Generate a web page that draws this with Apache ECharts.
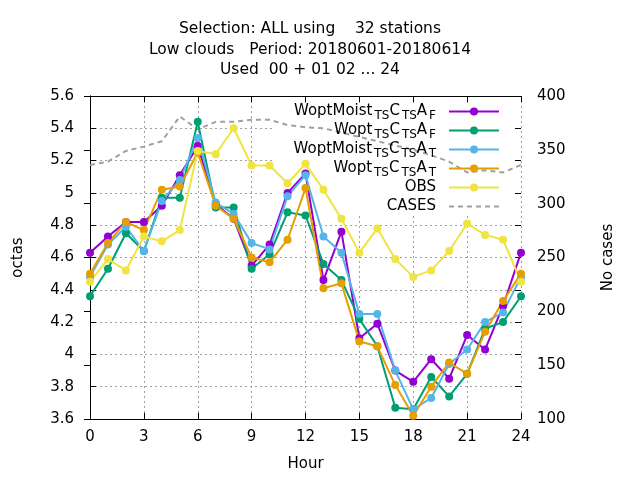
<!DOCTYPE html>
<html>
<head>
<meta charset="utf-8">
<script src="https://cdn.jsdelivr.net/npm/echarts@6/dist/echarts.min.js"></script>
<style>
  html, body { margin: 0; padding: 0; background: #fff; }
  #chart { width: 640px; height: 480px; }
</style>
</head>
<body>
<div id="chart"></div>
<script>
// hours 0..24
const hours = [0, 1, 2, 3, 4, 5, 6, 7, 8, 9, 10, 11, 12, 13, 14, 15, 16, 17, 18, 19, 20, 21, 22, 23, 24]
const xTicks = [0, 3, 6, 9, 12, 15, 18, 21, 24]

// octas
const woptMoistAF = [4.63, 4.73, 4.82, 4.82, 4.92, 5.11, 5.29, 4.93, 4.84, 4.55, 4.68, 5.00, 5.12, 4.46, 4.76, 4.10, 4.19, 3.90, 3.83, 3.97, 3.85, 4.12, 4.03, 4.30, 4.63]
const woptAF = [4.36, 4.53, 4.75, 4.64, 4.97, 4.97, 5.44, 4.91, 4.91, 4.53, 4.62, 4.88, 4.86, 4.56, 4.46, 4.22, 4.05, 3.67, 3.66, 3.86, 3.74, 3.88, 4.16, 4.20, 4.36]
const woptMoistAT = [4.48, 4.68, 4.79, 4.64, 4.95, 5.08, 5.34, 4.94, 4.87, 4.69, 4.65, 4.98, 5.11, 4.73, 4.63, 4.25, 4.25, 3.90, 3.66, 3.73, 3.94, 4.03, 4.20, 4.26, 4.48]
const woptAT = [4.50, 4.69, 4.82, 4.77, 5.02, 5.04, 5.25, 4.92, 4.84, 4.60, 4.57, 4.71, 5.03, 4.41, 4.44, 4.08, 4.05, 3.81, 3.62, 3.80, 3.95, 3.88, 4.14, 4.33, 4.50]
const obs = [4.45, 4.59, 4.52, 4.73, 4.70, 4.77, 5.26, 5.24, 5.40, 5.17, 5.17, 5.06, 5.18, 5.02, 4.84, 4.63, 4.78, 4.59, 4.48, 4.52, 4.64, 4.81, 4.74, 4.71, 4.45]
// number of cases (right axis)
const cases = [336, 339, 349, 353, 358, 381, 369, 376, 376, 378, 378, 373, 371, 370, 366, 362, 358, 354, 350, 345, 339, 329, 331, 329, 336]

const titleLines = [
  'Selection: ALL using    32 stations',
  'Low clouds   Period: 20180601-20180614',
  'Used  00 + 01 02 ... 24'
]

const FONT = 'DejaVu Sans'

// legend labels with subscripts
const labels = {
  'WoptMoist_TSC_TSA_F': 'WoptMoist{sub|TS}C{sub|TS}A{sub|F}',
  'Wopt_TSC_TSA_F': 'Wopt{sub|TS}C{sub|TS}A{sub|F}',
  'WoptMoist_TSC_TSA_T': 'WoptMoist{sub|TS}C{sub|TS}A{sub|T}',
  'Wopt_TSC_TSA_T': 'Wopt{sub|TS}C{sub|TS}A{sub|T}',
  'OBS': 'OBS',
  'CASES': 'CASES'
}

const pairs = vals => hours.map((h, i) => [h, vals[i]])

const lineSeries = (name, vals, color) => ({
  name,
  type: 'line',
  data: pairs(vals),
  yAxisIndex: 0,
  symbol: 'circle',
  symbolSize: 8,
  lineStyle: { color, width: 2 },
  itemStyle: { color },
  animation: false
})

const legendRow = (name, top, hideSymbol) => {
  const row = {
    data: [name],
    right: 140,
    top,
    padding: 0,
    align: 'right',
    itemWidth: 50,
    itemHeight: 10,
    selectedMode: false,
    formatter: n => labels[n],
    textStyle: {
      fontFamily: FONT,
      fontSize: 15,
      color: '#000',
      padding: [0, 8, 0, 0],
      rich: {
        sub: { fontFamily: FONT, fontSize: 12, color: '#000', padding: [8, 0, 0, 2] }
      }
    }
  }
  if (hideSymbol) row.itemStyle = { color: 'rgba(0,0,0,0)', borderWidth: 0 }
  return row
}

const chart = echarts.init(document.getElementById('chart'))

const gridLine = { show: true, lineStyle: { color: '#a0a0a0', type: [2, 3], width: 1 } }
const tickIn = { show: true, inside: true, length: 6, lineStyle: { color: '#000' } }
const axisBlack = { show: true, lineStyle: { color: '#000', width: 1 } }
const labelStyle = { fontFamily: FONT, fontSize: 15, color: '#000' }

chart.setOption({
  backgroundColor: '#fff',
  animation: false,
  title: {
    text: titleLines.join('\n'),
    left: 305,
    top: 14,
    textAlign: 'center',
    textStyle: { fontFamily: FONT, fontSize: 15.5, fontWeight: 'normal', color: '#000', lineHeight: 20.5 }
  },
  grid: { left: 90, right: 119, top: 96, bottom: 61, containLabel: false },
  legend: [
    legendRow('WoptMoist_TSC_TSA_F', 104),
    legendRow('Wopt_TSC_TSA_F', 123),
    legendRow('WoptMoist_TSC_TSA_T', 142),
    legendRow('Wopt_TSC_TSA_T', 161),
    legendRow('OBS', 180),
    legendRow('CASES', 199, true)
  ],
  xAxis: [
    {
      type: 'value', min: xTicks[0], max: xTicks[xTicks.length - 1], interval: 3,
      name: 'Hour', nameLocation: 'middle', nameGap: 38,
      nameTextStyle: labelStyle,
      axisLine: axisBlack, axisTick: tickIn, splitLine: gridLine,
      axisLabel: { ...labelStyle, margin: 11 }
    },
    {
      type: 'value', position: 'top', min: 0, max: 24, interval: 3,
      axisLine: axisBlack, axisTick: tickIn, splitLine: { show: false },
      axisLabel: { show: false }
    }
  ],
  yAxis: [
    {
      type: 'value', min: 3.6, max: 5.6, interval: 0.2,
      name: 'octas', nameLocation: 'middle', nameGap: 64, nameRotate: 90,
      nameTextStyle: labelStyle,
      axisLine: axisBlack, axisTick: tickIn, splitLine: gridLine,
      axisLabel: { ...labelStyle, margin: 16 }
    },
    {
      type: 'value', position: 'right', min: 100, max: 400, interval: 50,
      name: 'No cases', nameLocation: 'middle', nameGap: 80, nameRotate: 90,
      nameTextStyle: labelStyle,
      axisLine: axisBlack, axisTick: tickIn, splitLine: { show: false },
      axisLabel: { ...labelStyle, margin: 16 }
    },
    {
      // mirrored left ticks on the right border
      type: 'value', position: 'right', min: 3.6, max: 5.6, interval: 0.2,
      axisLine: { show: false }, axisTick: tickIn, splitLine: { show: false },
      axisLabel: { show: false }
    }
  ],
  graphic: [
    {
      // opaque key box: hides the grid behind the legend
      type: 'rect', z: 1, silent: true,
      shape: { x: 275, y: 103, width: 238, height: 111 },
      style: { fill: '#fff' }
    }
  ],
  series: [
    {
      name: 'CASES',
      type: 'line',
      data: pairs(cases),
      yAxisIndex: 1,
      symbol: 'none',
      lineStyle: { color: '#a0a0a0', width: 2, type: [5, 4] },
      itemStyle: { color: '#a0a0a0' },
      animation: false
    },
    lineSeries('WoptMoist_TSC_TSA_F', woptMoistAF, '#9400d3'),
    lineSeries('Wopt_TSC_TSA_F', woptAF, '#009e73'),
    lineSeries('WoptMoist_TSC_TSA_T', woptMoistAT, '#56b4e9'),
    lineSeries('Wopt_TSC_TSA_T', woptAT, '#e69f00'),
    lineSeries('OBS', obs, '#f0e442')
  ]
})
</script>
</body>
</html>
